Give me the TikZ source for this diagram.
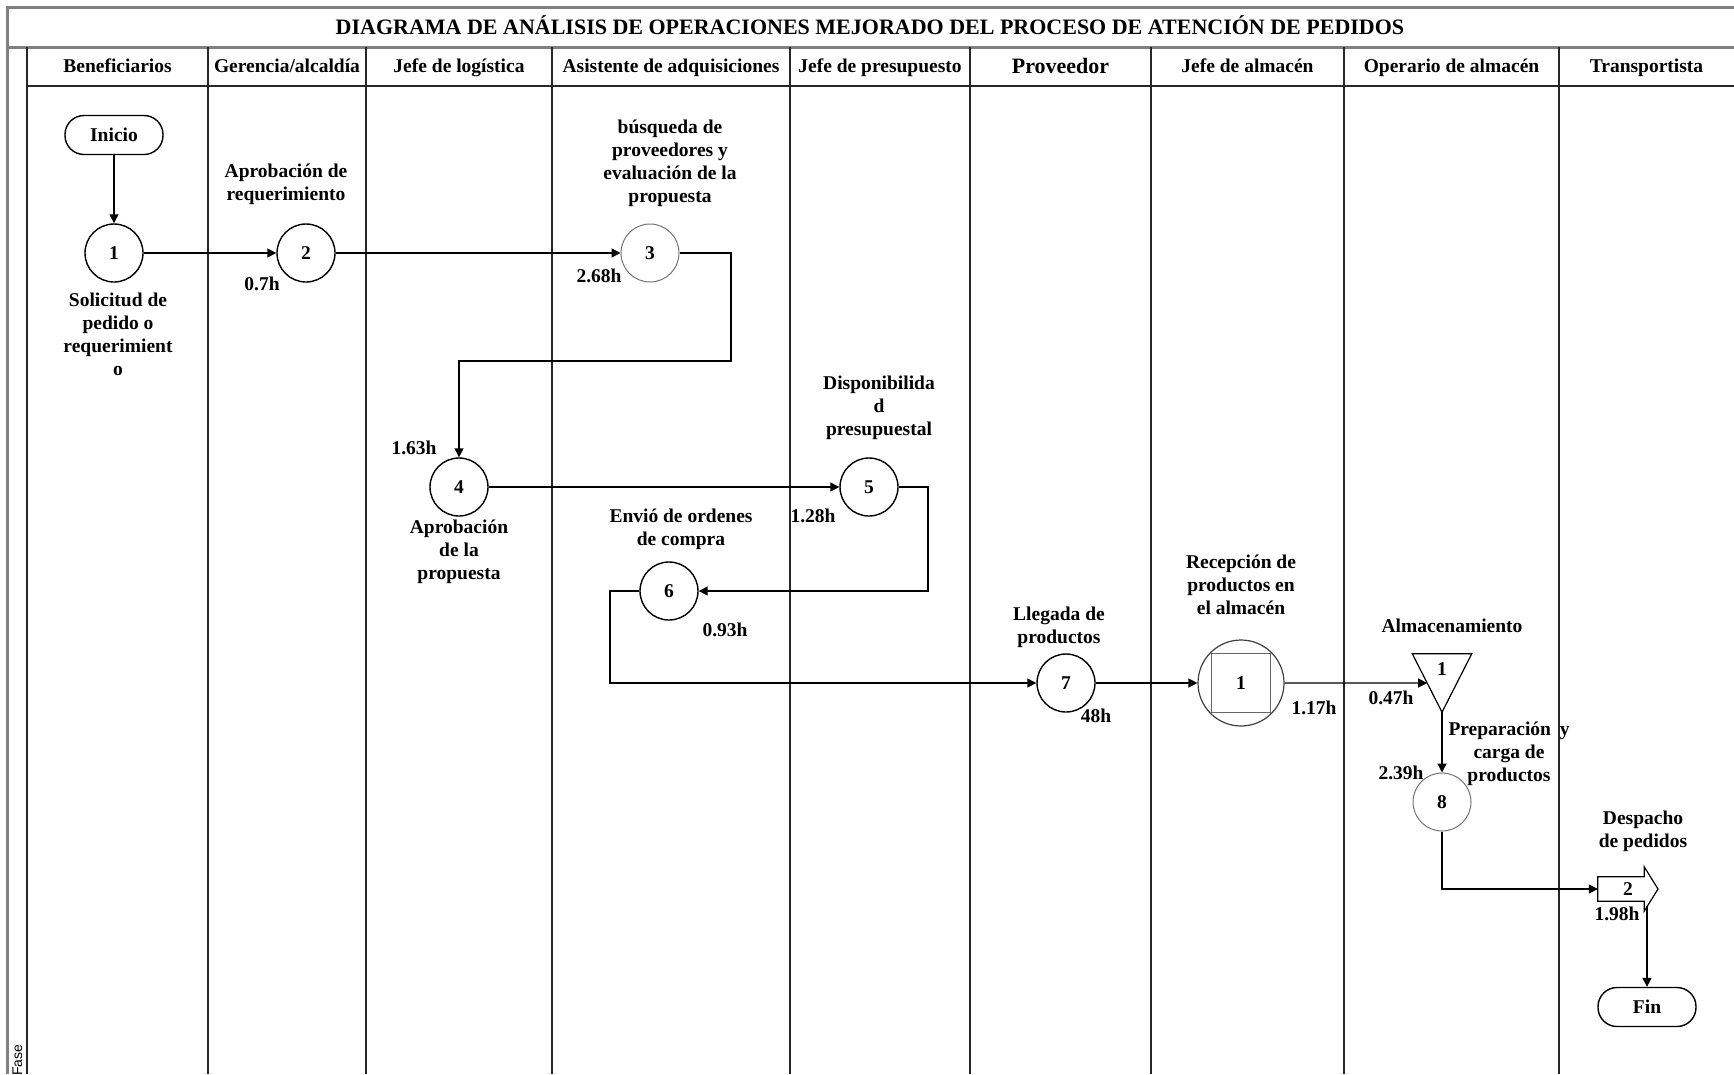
\documentclass[tikz,border=0pt]{standalone}
\usepackage{fontspec}
\setmainfont{Liberation Serif}
\setsansfont{Liberation Sans}
\usetikzlibrary{arrows.meta,calc}
\newcommand\lblfont{\fontsize{19.5}{23}\selectfont\bfseries}
\begin{document}
\begin{tikzpicture}[x=1pt,y=-1pt,
  frameline/.style={line width=3pt,draw=black!50},
  laneline/.style={line width=1.2pt,draw=black!85},
  head/.style={font=\lblfont,inner sep=0pt,anchor=base},
  proc/.style={circle,draw=black,line width=1.4pt,minimum size=58pt,inner sep=0pt,font=\lblfont},
  procgrey/.style={proc,draw=black!55,line width=1pt},
  lbl/.style={align=center,font=\lblfont,inner sep=0pt},
  tm/.style={font=\lblfont,inner sep=0pt},
  term/.style={draw,line width=1.4pt,rounded corners=19pt,minimum width=98pt,minimum height=39pt,font=\lblfont},
  flow/.style={line width=1.4pt,-{Triangle[length=9pt,width=9pt]}}]
\useasboundingbox (0,0) rectangle (1734,1074);

% outer frame, title bar and lanes
\draw[frameline] (7,1074) -- (7,7) -- (1734,7);
\draw[frameline] (7,47) -- (1734,47);
\draw[laneline] (27,47) -- (27,1074);
\draw[laneline] (27,86) -- (1734,86);
\foreach \x in {208,366,552,790,970,1151,1344,1559}
  \draw[laneline] (\x,47) -- (\x,1074);

\node[font=\fontsize{22}{26}\selectfont\bfseries,anchor=base,inner sep=0pt] (title) at (870,34.5)
  {DIAGRAMA DE ANÁLISIS DE OPERACIONES MEJORADO DEL PROCESO DE ATENCIÓN DE PEDIDOS};

% lane headers
\node[head] (h1) at (117.5,72) {Beneficiarios};
\node[head] (h2) at (287,72) {Gerencia/alcaldía};
\node[head] (h3) at (459,72) {Jefe de logística};
\node[head] (h4) at (671,72) {Asistente de adquisiciones};
\node[head] (h5) at (880,72) {Jefe de presupuesto};
\node[head,font=\fontsize{22}{26}\selectfont\bfseries] (h6) at (1060.5,73) {Proveedor};
\node[head] (h7) at (1247.5,72) {Jefe de almacén};
\node[head] (h8) at (1451.5,72) {Operario de almacén};
\node[head] (h9) at (1646.5,72) {Transportista};

\node[rotate=90,anchor=west,inner sep=0pt,font=\sffamily\fontsize{14}{16}\selectfont] (fase) at (17.5,1076) {Fase};

% activities
\node[term] (ini) at (114,135) {Inicio};
\node[proc] (c1) at (114,253) {1};
\node[proc] (c2) at (306,253) {2};
\node[procgrey] (c3) at (650,253) {3};
\node[proc] (c4) at (459,487) {4};
\node[proc] (c5) at (869,487) {5};
\node[proc] (c6) at (669,591) {6};
\node[proc] (c7) at (1066,683) {7};

% combined operation / inspection
\node[circle,draw=black!75,line width=1.2pt,minimum size=86pt,inner sep=0pt] (insp) at (1241,683) {};
\node[draw=black!60,line width=1.2pt,minimum size=59pt,inner sep=0pt,font=\lblfont] (insq) at (insp.center) {1};

% storage
\node[minimum width=59pt,minimum height=58pt,inner sep=0pt] (alm) at (1442,683) {};
\draw[line width=1.2pt] (alm.north west) -- (alm.north east) -- (alm.south) -- cycle;
\node[font=\lblfont,inner sep=0pt] (almn) at (1442,669) {1};
\coordinate (almin) at ($(alm.north west)!0.5!(alm.south)$);

\node[procgrey] (c8) at (1442,802) {8};

% transport
\node[minimum width=46pt,minimum height=24pt,inner sep=0pt] (tr) at (1621,889) {};
\draw[line width=1.2pt] (tr.north west) -- (tr.north east) -- ++(0,-10) -- (1658,889)
  -- ($(tr.south east)+(0,10)$) -- (tr.south east) -- (tr.south west) -- cycle;
\node[font=\lblfont,inner sep=0pt] (trn) at (1628,889) {2};
\coordinate (trout) at (1647,906);

\node[term] (fin) at (1647,1007) {Fin};

% bend points
\coordinate (b1) at (731,361);
\coordinate (b2) at (928,591);
\coordinate (b3) at (610,683);

% flow
\draw[flow] (ini) -- (c1);
\draw[flow] (c1) -- (c2);
\draw[flow] (c2) -- (c3);
\draw[flow] (c3.east) -| (b1) -| (c4.north);
\draw[flow] (c4) -- (c5);
\draw[flow] (c5.east) -| (b2) -- (c6.east);
\draw[flow] (c6.west) -| (b3) -- (c7.west);
\draw[flow] (c7) -- (insp);
\draw[flow] (insp.east) -- (almin);
\draw[flow] (alm.south) -- (c8.north);
\draw[flow] (c8.south) |- (tr.west);
\draw[flow] (trout) -- (fin.north);

% descriptions
\node[lbl] (l1) at (118,334) {Solicitud de\\pedido o\\requerimient\\o};
\node[lbl] (l2) at (286,184) {Aprobación de\\requerimiento};
\node[lbl] (l3) at (670,163) {búsqueda de\\proveedores y\\evaluación de la\\propuesta};
\node[lbl] (l4) at (459,552) {Aprobación\\de la\\propuesta};
\node[lbl] (l5) at (879,408) {Disponibilida\\d\\presupuestal};
\node[lbl] (l6) at (681,529) {Envió de ordenes\\de compra};
\node[lbl] (l7) at (1059,627) {Llegada de\\productos};
\node[lbl] (l9) at (1241,585) {Recepción de\\productos en\\el almacén};
\node[lbl] (l10) at (1452,626) {Almacenamiento};
\node[lbl] (l8) at (1509,754) {\makebox[121pt]{Preparación\hfill y}\\carga de\\productos};
\node[lbl] (l11) at (1643,831) {Despacho\\de pedidos};

% times
\node[tm] (t2) at (262,284) {0.7h};
\node[tm] (t3) at (599,276) {2.68h};
\node[tm] (t4) at (414,448) {1.63h};
\node[tm] (t5) at (813,516) {1.28h};
\node[tm] (t6) at (725,630) {0.93h};
\node[tm] (t7) at (1096,716) {48h};
\node[tm] (t9) at (1314,708) {1.17h};
\node[tm] (t10) at (1391,698) {0.47h};
\node[tm] (t8) at (1401,773) {2.39h};
\node[tm] (t11) at (1617,914) {1.98h};
\end{tikzpicture}
\end{document}
